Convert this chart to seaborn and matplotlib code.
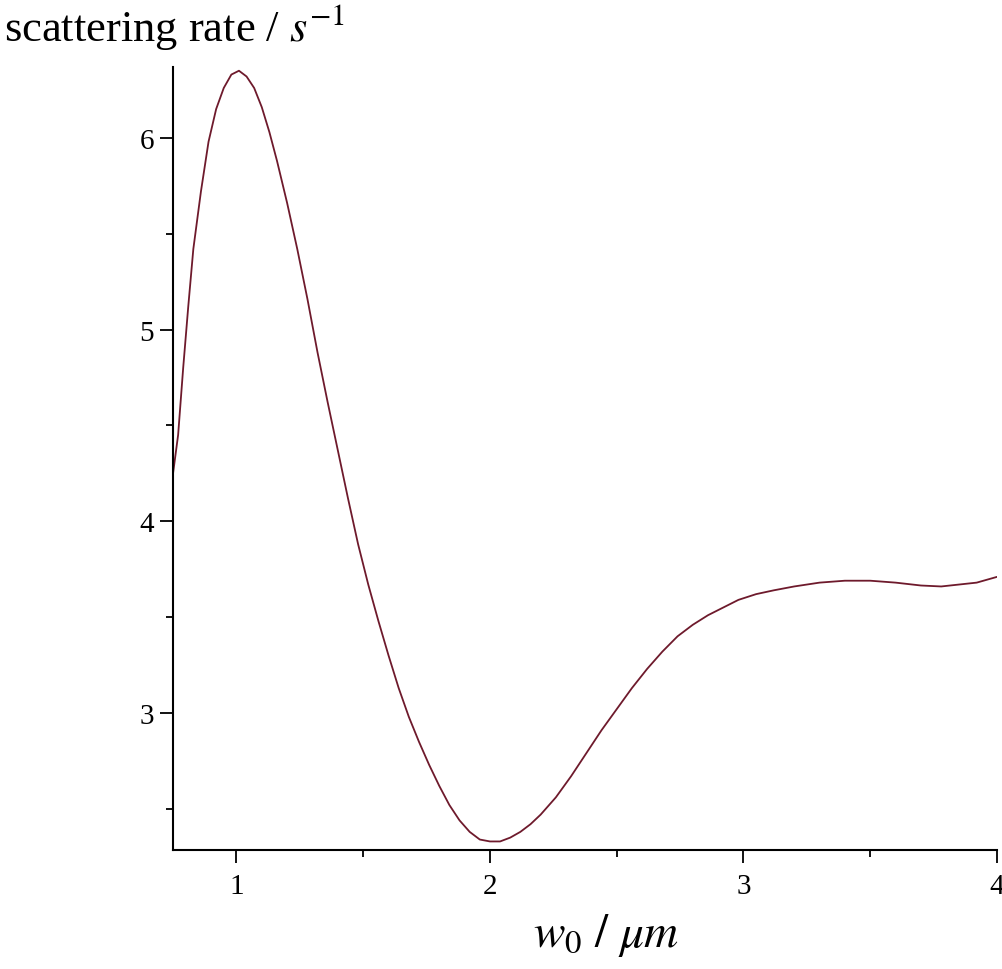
import numpy as np
import pandas as pd
import matplotlib
matplotlib.use("Agg")
import matplotlib.pyplot as plt
from matplotlib.ticker import MultipleLocator
import seaborn as sns

# beam waist (um) and scattering rate
w0 = [0.75, 0.77, 0.79, 0.81, 0.83, 0.86, 0.89, 0.92, 0.95, 0.98,
      1.01, 1.04, 1.07, 1.10, 1.13, 1.16, 1.20, 1.24, 1.28, 1.32,
      1.36, 1.40, 1.44, 1.48, 1.52, 1.56, 1.60, 1.64, 1.68, 1.72,
      1.76, 1.80, 1.84, 1.88, 1.92, 1.96, 2.00, 2.04, 2.08, 2.12,
      2.16, 2.20, 2.26, 2.32, 2.38, 2.44, 2.50, 2.56, 2.62, 2.68,
      2.74, 2.80, 2.86, 2.92, 2.98, 3.05, 3.12, 3.20, 3.30, 3.40,
      3.50, 3.60, 3.70, 3.78, 3.85, 3.92, 4.00]
rate = [4.25, 4.45, 4.80, 5.12, 5.42, 5.72, 5.98, 6.15, 6.26, 6.33,
        6.35, 6.32, 6.26, 6.16, 6.03, 5.88, 5.66, 5.42, 5.16, 4.88,
        4.62, 4.37, 4.12, 3.88, 3.67, 3.48, 3.30, 3.13, 2.98, 2.85,
        2.73, 2.62, 2.52, 2.44, 2.38, 2.34, 2.33, 2.33, 2.35, 2.38,
        2.42, 2.47, 2.56, 2.67, 2.79, 2.91, 3.02, 3.13, 3.23, 3.32,
        3.40, 3.46, 3.51, 3.55, 3.59, 3.62, 3.64, 3.66, 3.68, 3.69,
        3.69, 3.68, 3.665, 3.66, 3.67, 3.68, 3.71]

xticks = [1, 2, 3, 4]
yticks = [3, 4, 5, 6]

df = pd.DataFrame({"w0": w0, "rate": rate})

sns.set_theme(style="ticks")
plt.rcParams["font.family"] = ["Liberation Serif", "DejaVu Serif"]
plt.rcParams["mathtext.fontset"] = "stix"

fig = plt.figure(figsize=(10.02, 9.70), dpi=100)
ax = fig.add_axes([0.1727, 0.123, 0.8223, 0.807])

sns.lineplot(data=df, x="w0", y="rate", ax=ax, color="#6e1a2c",
             linewidth=1.3, sort=False)

ax.set_xlim(0.75, 4.0)
ax.set_ylim(2.287, 6.37)
ax.set_xticks(xticks)
ax.set_yticks(yticks)
ax.xaxis.set_minor_locator(MultipleLocator(0.5))
ax.yaxis.set_minor_locator(MultipleLocator(0.5))

ax.tick_params(axis="both", which="major", direction="out", length=9.5,
               width=1.3, color="black", labelsize=21, labelcolor="black")
ax.tick_params(axis="both", which="minor", direction="out", length=5,
               width=1.3, color="black")
ax.tick_params(axis="x", which="major", pad=7)
ax.tick_params(axis="y", which="major", pad=4)

sns.despine(ax=ax)
for side in ["left", "bottom"]:
    ax.spines[side].set_linewidth(1.5)
    ax.spines[side].set_color("black")

ax.set_xlabel("")
ax.set_ylabel("")
fig.text(0.605, 0.036, r"$w_0\ /\ \mu m$", ha="center", va="center",
         fontsize=34, color="black")
fig.text(0.004, 0.972, r"scattering rate / $s^{-1}$", ha="left", va="center",
         fontsize=32, color="black")

fig.savefig("out.png", dpi=100, facecolor="white")
